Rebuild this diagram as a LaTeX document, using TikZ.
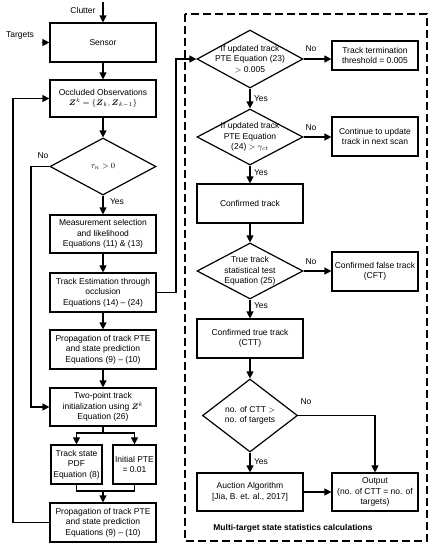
\documentclass[tikz,border=0pt]{standalone}
\usepackage{amsmath}
\usepackage{fontspec}
\setmainfont{Liberation Sans}
\usetikzlibrary{arrows.meta,shapes.geometric}
\newcommand{\fs}{\fontsize{8.5}{10.5}\selectfont}
\tikzset{
  box/.style={draw, line width=1.2pt, minimum width=106, minimum height=39, align=center, inner sep=0, font=\fs},
  dia/.style={draw, diamond, line width=1.2pt, minimum width=106, minimum height=57, inner sep=0},
  dtext/.style={align=center, font=\fs, inner sep=0},
  arr/.style={line width=1.2pt, -{Triangle[length=7,width=7]}},
  ln/.style={line width=1.2pt},
  lbl/.style={font=\fs, inner sep=0},
}
\begin{document}
\begin{tikzpicture}[x=1pt,y=-1pt]
\useasboundingbox (0,0) rectangle (434,550);
% left column
\node[box] (sensor) at (103,42.5) {Sensor};
\node[box, minimum height=37] (occ) at (103,98.5) {Occluded Observations\\[-1pt]$\boldsymbol{Z}^k=\{\boldsymbol{Z}_k,\boldsymbol{Z}_{k-1}\}$};
\node[dia] (d0) at (103,166.5) {};
\node[dtext] (d0t) at (d0.center) {$\tau_n>0$};
\node[box, minimum height=38] (meas) at (103,234) {Measurement selection\\and likelihood\\Equations (11) \& (13)};
\node[box] (est) at (103,292.5) {Track Estimation through\\occlusion\\Equations (14) -- (24)};
\node[box] (prop1) at (103,349.5) {Propagation of track PTE\\and state prediction\\Equations (9) -- (10)};
\node[box, minimum height=38] (two) at (103,407) {Two-point track\\initialization using $\boldsymbol{Z}^k$\\Equation (26)};
\node[box, minimum width=51] (tsp) at (76.5,464.5) {Track state\\PDF\\Equation (8)};
\node[box, minimum width=43] (ipte) at (134.5,464.5) {Initial PTE\\= 0.01};
\node[box] (prop2) at (103,522.5) {Propagation of track PTE\\and state prediction\\Equations (9) -- (10)};
\node[lbl] (clutter) at (83,10) {Clutter};
\coordinate (ctop) at (103,2);
\node[lbl] (targets) at (20,35) {Targets};
\coordinate (tleft) at (42,42.5);
\node[lbl] (no0) at (43,156) {No};
\node[lbl] (yes0) at (117,202) {Yes};
% right column
\draw[ln, dash pattern=on 8pt off 4pt] (185,14) rectangle (427,541);
\node[font=\fs\bfseries, inner sep=0] (title) at (293,528) {Multi-target state statistics calculations};
\node[dia, minimum height=58] (d1) at (250,59) {};
\node[dtext] (d1t) at (d1.center) {If updated track\\PTE Equation (23)\\$>$ 0.005};
\node[box, minimum width=86, minimum height=29] (term) at (375,55.5) {Track termination\\threshold = 0.005};
\node[dia, minimum height=56] (d2) at (250,137) {};
\node[dtext] (d2t) at (d2.center) {If updated track\\PTE Equation\\(24) $>\gamma_{ct}$};
\node[box, minimum width=86] (cont) at (375,136.5) {Continue to update\\track in next scan};
\node[box] (conf) at (250,203.5) {Confirmed track};
\node[dia, minimum height=56] (d3) at (250,271) {};
\node[dtext] (d3t) at (d3.center) {True track\\statistical test\\Equation (25)};
\node[box, minimum width=86] (cft) at (375,271.5) {Confirmed false track\\(CFT)};
\node[box] (ctt) at (250,338.5) {Confirmed true track\\(CTT)};
\node[dia, minimum width=95, minimum height=73] (d4) at (250,415.5) {};
\node[dtext] (d4t) at (d4.center) {no. of CTT $>$\\no. of targets};
\node[box, minimum height=38] (auct) at (250,492) {Auction Algorithm\\{}{[Jia, B. et. al., 2017]}};
\node[box, minimum width=86, minimum height=38] (out) at (375,492) {Output\\(no. of CTT = no. of\\targets)};
\node[lbl] (no1) at (311,49) {No};
\node[lbl] (no2) at (311,128) {No};
\node[lbl] (no3) at (311,262) {No};
\node[lbl] (no4) at (306,402) {No};
\node[lbl] (yes1) at (261,99) {Yes};
\node[lbl] (yes2) at (261,173) {Yes};
\node[lbl] (yes3) at (261,306) {Yes};
\node[lbl] (yes4) at (261,462) {Yes};
% connectors left
\draw[arr] (ctop) -- (sensor.north);
\draw[arr] (tleft) -- (sensor.west);
\draw[arr] (sensor) -- (occ);
\draw[arr] (occ) -- (d0);
\draw[arr] (d0) -- (meas);
\draw[arr] (d0.west) -- (31,166.5) |- (two.west);
\draw[arr] (meas) -- (est);
\draw[arr] (est) -- (prop1);
\draw[arr] (prop1) -- (two);
\coordinate (split) at (103,433);
\draw[ln] (two.south) -- (split);
\draw[arr] (split) -| (tsp.north);
\draw[arr] (split) -| (ipte.north);
\coordinate (join) at (103,491);
\draw[ln] (tsp.south) |- (join);
\draw[ln] (ipte.south) |- (join);
\draw[arr] (join) -- (prop2.north);
\draw[arr] (prop2.west) -- (13,522.5) |- (occ.west);
\draw[arr] (est.east) -- (176,292.5) |- (d1.west);
% connectors right
\draw[arr] (d1.east) -- (d1.east -| term.west);
\draw[arr] (d1) -- (d2);
\draw[arr] (d2.east) -- (d2.east -| cont.west);
\draw[arr] (d2) -- (conf);
\draw[arr] (conf) -- (d3);
\draw[arr] (d3.east) -- (d3.east -| cft.west);
\draw[arr] (d3) -- (ctt);
\draw[arr] (ctt) -- (d4);
\draw[arr] (d4) -- (auct);
\draw[arr] (d4.east) -| (out.north);
\draw[arr] (auct) -- (out);
\end{tikzpicture}
\end{document}
